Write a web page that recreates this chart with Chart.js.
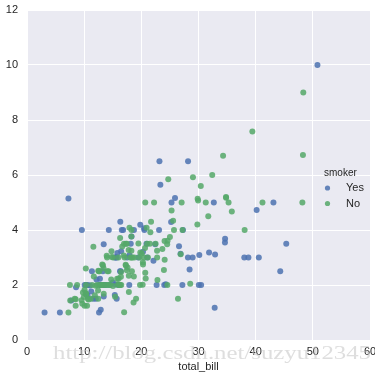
<!DOCTYPE html>
<html>
<head>
<meta charset="utf-8">
<script src="https://cdn.jsdelivr.net/npm/chart.js@4.4.1/dist/chart.umd.min.js"></script>
<style>
  html, body { margin: 0; padding: 0; background: #fff; }
  #wrap { position: relative; width: 375px; height: 374px; }
</style>
</head>
<body>
<div id="wrap"><canvas id="chart" width="375" height="374"></canvas></div>
<script>
// tips: smoker = Yes
const yesBill = [38.01, 11.24, 20.29, 13.81, 11.02, 18.29, 3.07, 15.01, 26.86, 25.28, 17.92, 19.44, 32.68, 28.97,
    5.75, 16.32, 40.17, 27.28, 12.03, 21.01, 11.35, 15.38, 44.3, 22.42, 15.36, 20.49, 25.21, 14.31, 16.0, 17.51,
    10.59, 10.63, 50.81, 15.81, 7.25, 31.85, 16.82, 32.9, 17.89, 14.48, 9.6, 34.63, 34.65, 23.33, 45.35, 23.17,
    40.55, 20.9, 30.46, 18.15, 23.1, 15.69, 19.81, 28.44, 15.48, 16.58, 10.34, 43.11, 13.0, 13.51, 18.71, 12.74,
    13.0, 16.4, 20.53, 16.47, 26.59, 38.73, 24.27, 12.76, 30.06, 25.89, 13.27, 28.17, 12.9, 28.15, 11.59, 7.74,
    30.14, 12.16, 13.42, 8.58, 13.42, 16.27, 10.09, 22.12, 24.01, 15.69, 15.53, 12.6, 32.83, 27.18, 22.67];
const yesTip = [3.0, 1.76, 3.21, 2.0, 1.98, 3.76, 1.0, 2.09, 3.14, 5.0, 3.08, 3.0, 5.0, 3.0,
    1.0, 4.3, 4.73, 4.0, 1.5, 3.0, 2.5, 3.0, 2.5, 3.48, 1.64, 4.06, 4.29, 4.0, 2.0, 3.0,
    1.61, 2.0, 10.0, 3.16, 5.15, 3.18, 4.0, 3.11, 2.0, 2.0, 4.0, 3.55, 3.68, 5.65, 3.5, 6.5,
    3.0, 3.5, 2.0, 3.5, 4.0, 1.5, 4.19, 2.56, 2.02, 4.0, 2.0, 5.0, 2.0, 2.0, 4.0, 2.01,
    2.0, 2.5, 4.0, 3.23, 3.41, 3.0, 2.03, 2.23, 2.0, 5.16, 2.5, 6.5, 1.1, 3.0, 1.5, 1.44,
    3.09, 2.2, 3.48, 1.92, 1.58, 2.5, 2.0, 2.88, 2.0, 3.0, 3.0, 1.0, 1.17, 2.0, 2.0];

// tips: smoker = No
const noBill = [16.99, 10.34, 21.01, 23.68, 24.59, 25.29, 8.77, 26.88, 15.04, 14.78, 10.27, 35.26, 15.42, 18.43,
    14.83, 21.58, 10.33, 16.29, 16.97, 20.65, 17.92, 20.29, 15.77, 39.42, 19.82, 17.81, 13.37, 12.69, 21.7, 19.65,
    9.55, 18.35, 15.06, 20.69, 17.78, 24.06, 16.31, 16.93, 18.69, 31.27, 16.04, 17.46, 13.94, 9.68, 30.4, 18.29,
    22.23, 32.4, 28.55, 18.04, 12.54, 10.29, 34.81, 9.94, 25.56, 19.49, 26.41, 48.27, 17.59, 20.08, 16.45, 20.23,
    12.02, 17.07, 14.73, 10.51, 27.2, 22.76, 17.29, 16.66, 10.07, 15.98, 34.83, 13.03, 18.28, 24.71, 21.16, 22.49,
    22.75, 12.46, 20.92, 18.24, 14.0, 7.25, 38.07, 23.95, 25.71, 17.31, 29.93, 10.65, 12.43, 24.08, 11.69, 13.42,
    14.26, 15.95, 12.48, 29.8, 8.52, 14.52, 11.38, 22.82, 19.08, 20.27, 11.17, 12.26, 18.26, 8.51, 10.33, 14.15,
    13.16, 17.47, 34.3, 41.19, 27.05, 16.43, 8.35, 18.64, 11.87, 9.78, 7.51, 14.07, 13.13, 17.26, 24.55, 19.77,
    29.85, 48.17, 25.0, 13.39, 16.49, 21.5, 12.66, 16.21, 13.81, 24.52, 20.76, 31.71, 20.69, 7.56, 48.33, 15.98,
    20.45, 13.28, 11.61, 10.77, 10.07, 35.83, 29.03, 17.82, 18.78];
const noTip = [1.01, 1.66, 3.5, 3.31, 3.61, 4.71, 2.0, 3.12, 1.96, 3.23, 1.71, 5.0, 1.57, 3.0,
    3.02, 3.92, 1.67, 3.71, 3.5, 3.35, 4.08, 2.75, 2.23, 7.58, 3.18, 2.34, 2.0, 2.0, 4.3, 3.0,
    1.45, 2.5, 3.0, 2.45, 3.27, 3.6, 2.0, 3.07, 2.31, 5.0, 2.24, 2.54, 3.06, 1.32, 5.6, 3.0,
    5.0, 6.0, 2.05, 3.0, 2.5, 2.6, 5.2, 1.56, 4.34, 3.51, 1.5, 6.73, 2.64, 3.15, 2.47, 2.01,
    1.97, 3.0, 2.2, 1.25, 4.0, 3.0, 2.71, 3.4, 1.83, 2.03, 5.17, 2.0, 4.0, 5.85, 3.0, 3.5,
    3.25, 1.5, 4.08, 3.76, 3.0, 1.0, 4.0, 2.55, 4.0, 3.5, 5.07, 1.5, 1.8, 2.92, 2.31, 1.68,
    2.5, 2.0, 2.52, 4.2, 1.48, 2.0, 2.0, 2.18, 1.5, 2.83, 1.5, 2.0, 3.25, 1.25, 2.0, 2.0,
    2.75, 3.5, 6.7, 5.0, 5.0, 2.3, 1.5, 1.36, 1.63, 1.73, 2.0, 2.5, 2.0, 2.74, 2.0, 2.0,
    5.14, 5.0, 3.75, 2.61, 2.0, 3.5, 2.5, 2.0, 2.0, 3.48, 2.24, 4.5, 5.0, 1.44, 9.0, 3.0,
    3.0, 2.72, 3.39, 1.47, 1.25, 4.67, 5.92, 1.75, 3.0];

const xTicks = [0, 10, 20, 30, 40, 50, 60];
const yTicks = [0, 2, 4, 6, 8, 10, 12];
const hueLabels = ['Yes', 'No'];
const hueTitle = 'smoker';
const xTitle = 'total_bill';
const watermark = 'http://blog.csdn.net/suzyu12345';

const blue = 'rgba(76, 114, 176, 0.85)';
const green = 'rgba(85, 168, 104, 0.85)';

function toPoints(xs, ys) {
    return xs.map((x, i) => ({ x: x, y: ys[i] }));
}

// grey plot background like seaborn darkgrid
const bgPlugin = {
    id: 'bg',
    beforeDraw(chart) {
        const a = chart.chartArea;
        const ctx = chart.ctx;
        ctx.save();
        ctx.fillStyle = '#EAEAF2';
        ctx.fillRect(a.left, a.top, a.right - a.left, a.bottom - a.top);
        ctx.restore();
    }
};

// legend on the right + the blog watermark
const overlayPlugin = {
    id: 'overlay',
    afterDraw(chart) {
        const ctx = chart.ctx;
        ctx.save();
        ctx.textBaseline = 'middle';
        ctx.fillStyle = '#262626';
        ctx.font = '10px "Liberation Sans", Arial, sans-serif';
        ctx.fillText(hueTitle, 324, 173);
        const cols = [blue, green];
        hueLabels.forEach((lab, i) => {
            const y = 188 + i * 15.5;
            ctx.fillStyle = cols[i];
            ctx.beginPath();
            ctx.arc(327.5, y, 2.6, 0, Math.PI * 2);
            ctx.fill();
            ctx.fillStyle = '#262626';
            ctx.font = '11px "Liberation Sans", Arial, sans-serif';
            ctx.fillText(lab, 346, y);
        });

        ctx.font = '18px "Liberation Serif", "DejaVu Serif", serif';
        ctx.textBaseline = 'alphabetic';
        const w = ctx.measureText(watermark).width;
        ctx.translate(53, 359);
        ctx.scale(318 / w, 1);
        ctx.fillStyle = 'rgba(200, 200, 200, 0.6)';
        ctx.fillText(watermark, 0, 0);
        ctx.restore();
    }
};

const ctx = document.getElementById('chart').getContext('2d');
new Chart(ctx, {
    type: 'scatter',
    data: {
        datasets: [
            {
                label: hueLabels[0],
                data: toPoints(yesBill, yesTip),
                backgroundColor: blue,
                borderWidth: 0,
                pointRadius: 3,
                order: 1
            },
            {
                label: hueLabels[1],
                data: toPoints(noBill, noTip),
                backgroundColor: green,
                borderWidth: 0,
                pointRadius: 3,
                order: 0
            }
        ]
    },
    options: {
        responsive: false,
        animation: false,
        layout: { padding: { top: 10, right: 5, left: 0, bottom: 0 } },
        plugins: {
            legend: { display: false },
            tooltip: { enabled: false }
        },
        scales: {
            x: {
                type: 'linear',
                min: 0,
                max: 60,
                afterBuildTicks: s => { s.ticks = xTicks.map(v => ({ value: v })); },
                afterFit: s => { s.height = 34; s.paddingLeft = 0; s.paddingRight = 0; },
                grid: { color: '#ffffff', lineWidth: 1, drawTicks: false },
                border: { display: false },
                ticks: {
                    padding: 5,
                    color: '#262626',
                    font: { family: '"Liberation Sans", Arial, sans-serif', size: 11 }
                },
                title: {
                    display: true,
                    text: xTitle,
                    color: '#262626',
                    padding: { top: 0, bottom: 0 },
                    font: { family: '"Liberation Sans", Arial, sans-serif', size: 11 }
                }
            },
            y: {
                type: 'linear',
                min: 0,
                max: 12,
                afterBuildTicks: s => { s.ticks = yTicks.map(v => ({ value: v })); },
                afterFit: s => { s.width = 27; s.paddingTop = 0; s.paddingBottom = 0; },
                grid: { color: '#ffffff', lineWidth: 1, drawTicks: false },
                border: { display: false },
                ticks: {
                    padding: 9,
                    color: '#262626',
                    font: { family: '"Liberation Sans", Arial, sans-serif', size: 11 }
                }
            }
        }
    },
    plugins: [bgPlugin, overlayPlugin]
});
</script>
</body>
</html>
